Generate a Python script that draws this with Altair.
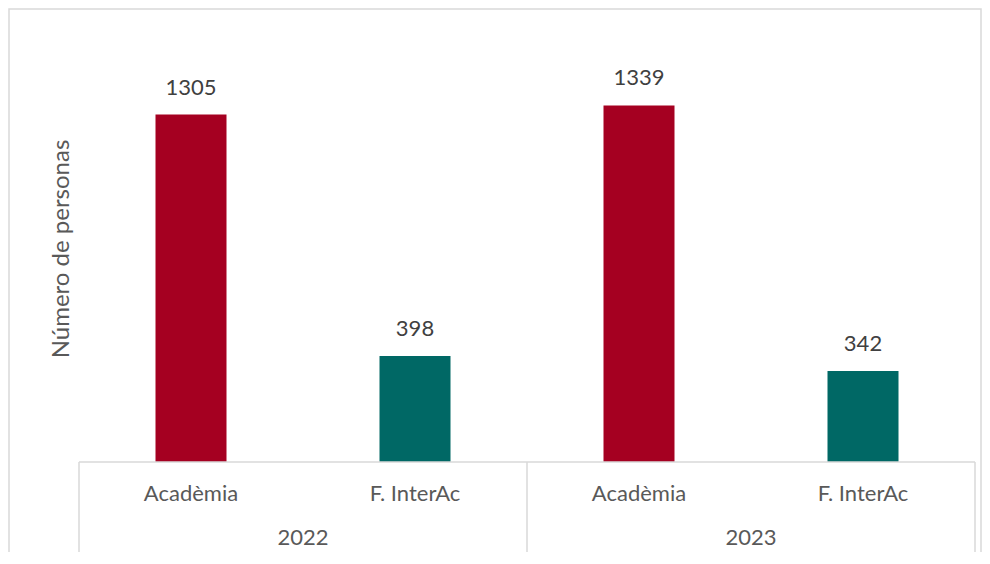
import altair as alt
import pandas as pd

years = ["2022", "2022", "2023", "2023"]
groups = ["Acadèmia", "F. InterAc", "Acadèmia", "F. InterAc"]
values = [1305, 398, 1339, 342]
year_labels = ["2022", "2023"]

colors = {"Acadèmia": "#A50021", "F. InterAc": "#006865"}

W, H = 896, 426
FONT = "Lato"
TXT = "#595959"
LINE = "#D9D9D9"

bars_df = pd.DataFrame({
    "pos": [i + 0.5 for i in range(len(values))],
    "year": years,
    "group": groups,
    "value": values,
})
year_df = pd.DataFrame({"pos": [1.0, 3.0], "year": year_labels})
div_df = pd.DataFrame({"pos": [0.0, 2.0, 4.0]})
base_df = pd.DataFrame({"a": [0.0], "b": [4.0], "v": [0]})

xs = alt.Scale(domain=[0, 4], nice=False, zero=False, padding=0)
ys = alt.Scale(domain=[0, 1600], nice=False, padding=0)

bars = alt.Chart(bars_df).mark_bar(width=71).encode(
    x=alt.X("pos:Q", scale=xs, axis=None),
    y=alt.Y("value:Q", scale=ys, axis=None),
    color=alt.Color("group:N", scale=alt.Scale(domain=list(colors), range=list(colors.values())), legend=None),
)
vals = alt.Chart(bars_df).mark_text(font=FONT, fontSize=22, color="#404040", baseline="middle", dy=-27).encode(
    x=alt.X("pos:Q", scale=xs),
    y=alt.Y("value:Q", scale=ys),
    text="value:Q",
)
cat = alt.Chart(bars_df).mark_text(font=FONT, fontSize=22, color=TXT, baseline="middle").encode(
    x=alt.X("pos:Q", scale=xs),
    y=alt.value(H + 32),
    text="group:N",
)
yr = alt.Chart(year_df).mark_text(font=FONT, fontSize=22, color=TXT, baseline="middle").encode(
    x=alt.X("pos:Q", scale=xs),
    y=alt.value(H + 76),
    text="year:N",
)
dividers = alt.Chart(div_df).mark_rule(color=LINE, strokeWidth=1.5).encode(
    x=alt.X("pos:Q", scale=xs),
    y=alt.value(H),
    y2=alt.value(H + 93),
)
baseline = alt.Chart(base_df).mark_rule(color=LINE, strokeWidth=1.5).encode(
    x=alt.X("a:Q", scale=xs),
    x2="b:Q",
    y=alt.Y("v:Q", scale=ys),
)
ytitle = alt.Chart(base_df).mark_text(font=FONT, fontSize=24, color=TXT, angle=270, baseline="middle").encode(
    x=alt.value(-17),
    y=alt.value(213),
    text=alt.value("Número de personas"),
)
frame = alt.Chart(base_df).mark_rect(fill="white", stroke=LINE, strokeWidth=1.5).encode(
    x=alt.value(-70),
    x2=alt.value(902),
    y=alt.value(-27),
    y2=alt.value(560),
)

chart = alt.layer(frame, bars, vals, baseline, dividers, cat, yr, ytitle).properties(
    width=W, height=H,
    autosize=alt.AutoSizeParams(type="none"),
    padding={"left": 71, "top": 28, "right": 7, "bottom": 90},
).configure_view(stroke=None).configure(background="white")

chart.save("out.html", embed_options={"renderer": "svg", "actions": False})
